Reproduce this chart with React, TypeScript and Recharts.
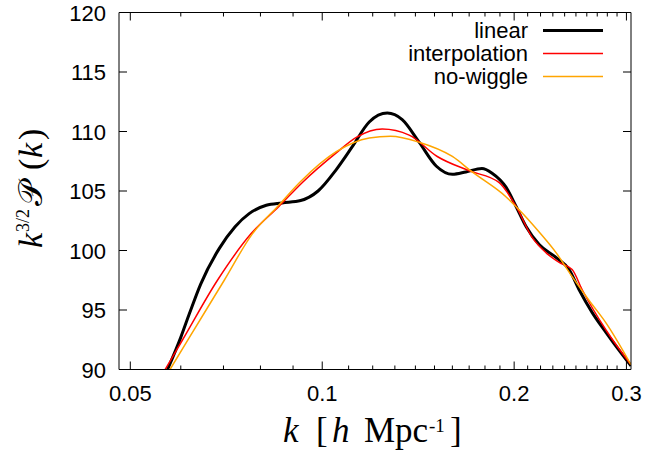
import React from 'react';
import { LineChart, Line, XAxis, YAxis } from 'recharts';

// k [h/Mpc] and k^{3/2} P(k)
const linearK = [
  0.0572, 0.06, 0.0619, 0.0645, 0.069, 0.073, 0.0768, 0.0817, 0.0865, 0.0925,
  0.0985, 0.1052, 0.1114, 0.1185, 0.1265, 0.1335, 0.1419, 0.1509, 0.16, 0.168,
  0.178, 0.1847, 0.1943, 0.2014, 0.2089, 0.2189, 0.2328, 0.2439, 0.2529, 0.265,
  0.2788, 0.2922, 0.305,
];
const linearP = [
  90.0, 92.7, 94.7, 97.2, 100.2, 102.0, 103.1, 103.8, 104.0, 104.2,
  105.0, 106.8, 108.7, 110.8, 111.55, 111.0, 109.1, 107.1, 106.4, 106.6,
  106.9, 106.5, 105.3, 103.7, 102.0, 100.5, 99.4, 98.4, 96.7, 94.8,
  93.1, 91.6, 90.3,
];

const interpK = [
  0.0567, 0.0604, 0.0685, 0.0773, 0.0855, 0.093, 0.1052, 0.1131, 0.1242, 0.1369,
  0.1515, 0.17, 0.1895, 0.2014, 0.2134, 0.2245, 0.2353, 0.2466, 0.2557, 0.2788,
  0.305,
];
const interpP = [
  90.0, 92.5, 97.5, 101.4, 103.7, 105.7, 108.2, 109.5, 110.2, 109.7,
  107.9, 106.7, 105.7, 103.7, 101.1, 99.8, 99.0, 98.4, 96.7, 93.3,
  90.4,
];

const nowiggleK = [
  0.0577, 0.0619, 0.0702, 0.0777, 0.0851, 0.0925, 0.1052, 0.1185, 0.128, 0.1419,
  0.16, 0.1719, 0.1943, 0.2059, 0.2189, 0.2328, 0.2466, 0.2622, 0.2788, 0.305,
];
const nowiggleP = [
  90.0, 92.7, 97.5, 101.4, 103.7, 105.8, 108.3, 109.45, 109.6, 109.1,
  107.9, 106.6, 104.5, 103.15, 101.55, 99.8, 97.8, 95.8, 93.9, 90.4,
];

const seriesNames = ['linear', 'interpolation', 'no-wiggle'];
const seriesColors = ['#000000', '#ff0000', '#ffa500'];
const seriesWidths = [3, 1.5, 1.5];

const xMajor = [0.05, 0.1, 0.2, 0.3];
const xMinor = [
  0.06, 0.07, 0.08, 0.09,
  0.11, 0.12, 0.13, 0.14, 0.15, 0.16, 0.17, 0.18, 0.19,
  0.21, 0.22, 0.23, 0.24, 0.25, 0.26, 0.27, 0.28, 0.29,
];
const yTicks = [90, 95, 100, 105, 110, 115, 120];

const xDomain = [0.048, 0.305];
const yDomain = [90, 120];

const toRows = (ks: number[], ps: number[]) => ks.map((k, i) => ({ k, p: ps[i] }));

const sans = '"Liberation Sans", Arial, sans-serif';
const serif = '"Liberation Serif", "Times New Roman", serif';

const BottomTick = (props: any) => {
  const { x, y, payload } = props;
  const major = xMajor.includes(payload.value);
  return (
    <g>
      <line x1={x} x2={x} y1={y} y2={y - (major ? 8 : 4)} stroke="#000" />
      {major && (
        <text x={x} y={y + 31} textAnchor="middle" fontFamily={sans} fontSize={22} fill="#000">
          {payload.value}
        </text>
      )}
    </g>
  );
};

const TopTick = (props: any) => {
  const { x, y, payload } = props;
  const major = xMajor.includes(payload.value);
  return <line x1={x} x2={x} y1={y} y2={y + (major ? 8 : 4)} stroke="#000" />;
};

const LeftTick = (props: any) => {
  const { x, y, payload } = props;
  return (
    <g>
      <line x1={x} x2={x + 8} y1={y} y2={y} stroke="#000" />
      <text x={x - 13} y={y + 8} textAnchor="end" fontFamily={sans} fontSize={22} fill="#000">
        {payload.value}
      </text>
    </g>
  );
};

const RightTick = (props: any) => {
  const { x, y } = props;
  return <line x1={x} x2={x - 8} y1={y} y2={y} stroke="#000" />;
};

const App = () => {
  const data = [toRows(linearK, linearP), toRows(interpK, interpP), toRows(nowiggleK, nowiggleP)];
  const allX = [...xMajor, ...xMinor].sort((a, b) => a - b);

  return (
    <div style={{ position: 'absolute', left: 0, top: 0, width: 646, height: 450, background: '#fff' }}>
      <LineChart width={646} height={450} margin={{ top: 11.5, right: 14, bottom: 79.5, left: 118 }}>
        <XAxis
          dataKey="k"
          type="number"
          scale="log"
          domain={xDomain}
          allowDataOverflow
          ticks={allX}
          interval={0}
          height={1}
          tickSize={0}
          tickMargin={0}
          tickLine={false}
          axisLine={{ stroke: '#000' }}
          tick={BottomTick}
        />
        <XAxis
          xAxisId="top"
          orientation="top"
          dataKey="k"
          type="number"
          scale="log"
          domain={xDomain}
          allowDataOverflow
          ticks={allX}
          interval={0}
          height={1}
          tickSize={0}
          tickMargin={0}
          tickLine={false}
          axisLine={{ stroke: '#000' }}
          tick={TopTick}
        />
        <YAxis
          type="number"
          domain={yDomain}
          allowDataOverflow
          ticks={yTicks}
          interval={0}
          width={1}
          tickSize={0}
          tickMargin={0}
          tickLine={false}
          axisLine={{ stroke: '#000' }}
          tick={LeftTick}
        />
        <YAxis
          yAxisId="right"
          orientation="right"
          type="number"
          domain={yDomain}
          allowDataOverflow
          ticks={yTicks}
          interval={0}
          width={1}
          tickSize={0}
          tickMargin={0}
          tickLine={false}
          axisLine={{ stroke: '#000' }}
          tick={RightTick}
        />
        {data.map((rows, i) => (
          <Line
            key={seriesNames[i]}
            data={rows}
            dataKey="p"
            name={seriesNames[i]}
            type="monotone"
            stroke={seriesColors[i]}
            strokeWidth={seriesWidths[i]}
            dot={false}
            activeDot={false}
            isAnimationActive={false}
          />
        ))}
      </LineChart>

      {/* legend and axis titles */}
      <svg width={646} height={450} style={{ position: 'absolute', left: 0, top: 0, pointerEvents: 'none' }}>
        {seriesNames.map((name, i) => (
          <g key={name}>
            <text x={528} y={37.5 + i * 23} textAnchor="end" fontFamily={sans} fontSize={22} fill="#000">
              {name}
            </text>
            <line x1={543} x2={603} y1={30.5 + i * 23} y2={30.5 + i * 23} stroke={seriesColors[i]} strokeWidth={seriesWidths[i]} />
          </g>
        ))}

        <g fontFamily={serif} fontSize={35} fill="#000">
          <text x={283} y={442} fontStyle="italic">k</text>
          <text x={316} y={442}>[</text>
          <text x={332} y={442} fontStyle="italic">h</text>
          <text x={364} y={442}>Mpc</text>
          <text x={429} y={432} fontSize={19}>-1</text>
          <text x={450} y={442}>]</text>
        </g>

        <g transform="translate(42,0) rotate(-90)" fontFamily={serif} fontSize={34} fill="#000">
          <text x={-248} y={0} fontStyle="italic">k</text>
          <text x={-232} y={-13} fontSize={18}>3/2</text>
          <text x={-206} y={0}>𝒫</text>
          <text x={-170} y={0}>(</text>
          <text x={-158} y={0} fontStyle="italic">k</text>
          <text x={-140} y={0}>)</text>
        </g>
      </svg>
    </div>
  );
};

export default App;
